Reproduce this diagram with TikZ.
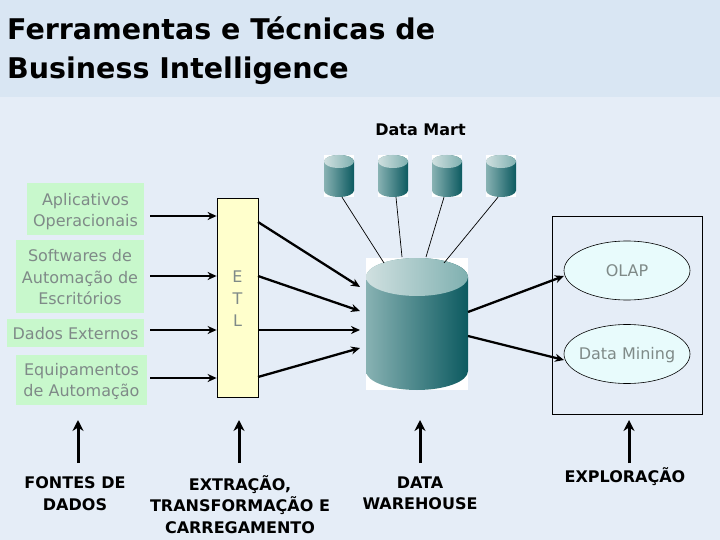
\documentclass[tikz,border=0pt]{standalone}
\usepackage{fontspec}
\usepackage{xcolor}
\setmainfont{DejaVu Sans}
\usetikzlibrary{shapes,arrows.meta}
\definecolor{bandblue}{HTML}{D9E6F3}
\definecolor{pageblue}{HTML}{E5EDF7}
\definecolor{srcgreen}{HTML}{C8F8CC}
\definecolor{etlyellow}{HTML}{FFFFCC}
\definecolor{toolcyan}{HTML}{E8FBFC}
\definecolor{softgray}{HTML}{7F8A88}
\tikzstyle{srcbox} = [rectangle, fill=srcgreen, text=softgray, align=center, inner sep=0pt, font=\fontsize{16}{21.5}\selectfont]
\tikzstyle{etlbox} = [rectangle, draw=black, fill=etlyellow, text=softgray, align=center, inner sep=0pt, line width=0.8pt, font=\fontsize{16}{22}\selectfont]
\tikzstyle{toolshape} = [ellipse, draw=black, fill=toolcyan, text=softgray, inner sep=-20pt, line width=0.6pt, minimum width=126, minimum height=59, font=\fontsize{16}{21.5}\selectfont]
\tikzstyle{framebox} = [rectangle, draw=black, inner sep=0pt, line width=0.8pt]
\tikzstyle{caption} = [align=center, inner sep=0pt, font=\fontsize{16}{21.5}\selectfont\bfseries]
\tikzstyle{arrow} = [line width=2.3pt, -{Stealth[length=9pt,width=8pt]}]
\tikzstyle{bigarrow} = [line width=3pt, -{Stealth[length=11pt,width=11pt]}]
\tikzstyle{wire} = [line width=0.7pt]
% name, centre x, top, bottom, half width, ellipse radius
\newcommand{\dbcyl}[6]{
    \node[rectangle, fill=white, inner sep=0pt, minimum width=2*#5, minimum height=#4-#3] (#1) at (#2,{(#3+#4)/2}) {};
    \shade[left color=cylleft, middle color=cylmid, right color=cylright] ({#2-#5},{#3+#6}) -- ({#2-#5},{#4-#6}) arc (180:360:#5pt and #6pt) -- ({#2+#5},{#3+#6}) arc (0:180:#5pt and #6pt) -- cycle;
    \shade[left color=topleft, right color=topright] (#2,{#3+#6}) ellipse (#5pt and #6pt);
}
\definecolor{cylleft}{HTML}{88B2B3}
\definecolor{cylmid}{HTML}{5F9698}
\definecolor{cylright}{HTML}{0C5A60}
\definecolor{topleft}{HTML}{D0E0E0}
\definecolor{topright}{HTML}{7FB0B0}

\begin{document}
\begin{tikzpicture}[x=1pt, y=-1pt]
        \useasboundingbox (0,0) rectangle (720,540);
        \fill[pageblue] (0,0) rectangle (720,540);
        \fill[bandblue] (0,0) rectangle (720,97);

        \node[anchor=west, inner sep=0pt, align=left, font=\fontsize{28.5}{39}\selectfont\bfseries] (title) at (7,50.5) {Ferramentas e Técnicas de\\Business Intelligence};
        \node[inner sep=0pt, font=\fontsize{16}{20}\selectfont\bfseries] (martlabel) at (420.5,130) {Data Mart};

        \node[srcbox, minimum width=117, minimum height=52] (apps) at (85.5,209) {\rule{0pt}{17pt}Aplicativos\\Operacionais};
        \node[srcbox, minimum width=128, minimum height=73] (soft) at (80,276.5) {\rule{0pt}{14pt}Softwares de\\Automação de\\Escritórios};
        \node[srcbox, minimum width=137, minimum height=28] (ext) at (75.5,333) {\rule{0pt}{14pt}Dados Externos};
        \node[srcbox, minimum width=131, minimum height=50] (equip) at (81.5,380) {\rule{0pt}{15pt}Equipamentos\\de Automação};
        \node[etlbox, minimum width=41, minimum height=199] (etl) at (237.5,297.5) {\rule{0pt}{14pt}E\\T\\L};

        \dbcyl{mart1}{339}{155}{197}{15}{6.5}
        \dbcyl{mart2}{393}{155}{197}{15}{6.5}
        \dbcyl{mart3}{447}{155}{197}{15}{6.5}
        \dbcyl{mart4}{501}{155}{197}{15}{6.5}
        \dbcyl{dw}{417}{258}{390}{51}{19}

        \node[framebox, minimum width=150, minimum height=198] (tools) at (627,315) {};
        \node[toolshape] (olap) at (627,270.5) {OLAP};
        \node[toolshape] (mining) at (627,354) {\rule{0pt}{15pt}Data Mining};

        \node[caption] (fontes) at (75,493.5) {FONTES DE\\DADOS};
        \node[caption] (extr) at (240,504.5) {EXTRAÇÃO,\\TRANSFORMAÇÃO E\\CARREGAMENTO};
        \node[caption] (wareh) at (420,493.5) {DATA\\WAREHOUSE};
        \node[caption] (explor) at (625,477) {EXPLORAÇÃO};

        \coordinate (in1) at (150,216);
        \coordinate (in2) at (150,276);
        \coordinate (in3) at (150,330);
        \coordinate (in4) at (150,378);
        \coordinate (out1) at (258,222);
        \coordinate (out2) at (258,276);
        \coordinate (out3) at (258,330);
        \coordinate (out4) at (258,377);
        \coordinate (dw1) at (360,287);
        \coordinate (dw2) at (360,311);
        \coordinate (dw3) at (360,330);
        \coordinate (dw4) at (360,348);
        \coordinate (top1) at (384,263);
        \coordinate (top2) at (402,257);
        \coordinate (top3) at (426,257);
        \coordinate (top4) at (444,263);
        \coordinate (side1) at (468,312);
        \coordinate (side2) at (468,336);
        \coordinate (olapin) at (564,276);
        \coordinate (miningin) at (564,360);
        \coordinate (up1) at (78,463);
        \coordinate (up2) at (239,463);
        \coordinate (up3) at (420,463);
        \coordinate (up4) at (629,463);

        \draw[arrow] (in1) -- (etl.west |- in1);
        \draw[arrow] (in2) -- (etl.west |- in2);
        \draw[arrow] (in3) -- (etl.west |- in3);
        \draw[arrow] (in4) -- (etl.west |- in4);

        \draw[arrow] (out1) -- (dw1);
        \draw[arrow] (out2) -- (dw2);
        \draw[arrow] (out3) -- (dw3);
        \draw[arrow] (out4) -- (dw4);

        \draw[wire] ([xshift=3pt]mart1.south) -- (top1);
        \draw[wire] ([xshift=3pt]mart2.south) -- (top2);
        \draw[wire] ([xshift=-3pt]mart3.south) -- (top3);
        \draw[wire] ([xshift=-3pt]mart4.south) -- (top4);

        \draw[arrow] (side1) -- (olapin);
        \draw[arrow] (side2) -- (miningin);

        \draw[bigarrow] (up1) -- ++(0,-43);
        \draw[bigarrow] (up2) -- ++(0,-43);
        \draw[bigarrow] (up3) -- ++(0,-43);
        \draw[bigarrow] (up4) -- ++(0,-43);

    \end{tikzpicture}
\end{document}
